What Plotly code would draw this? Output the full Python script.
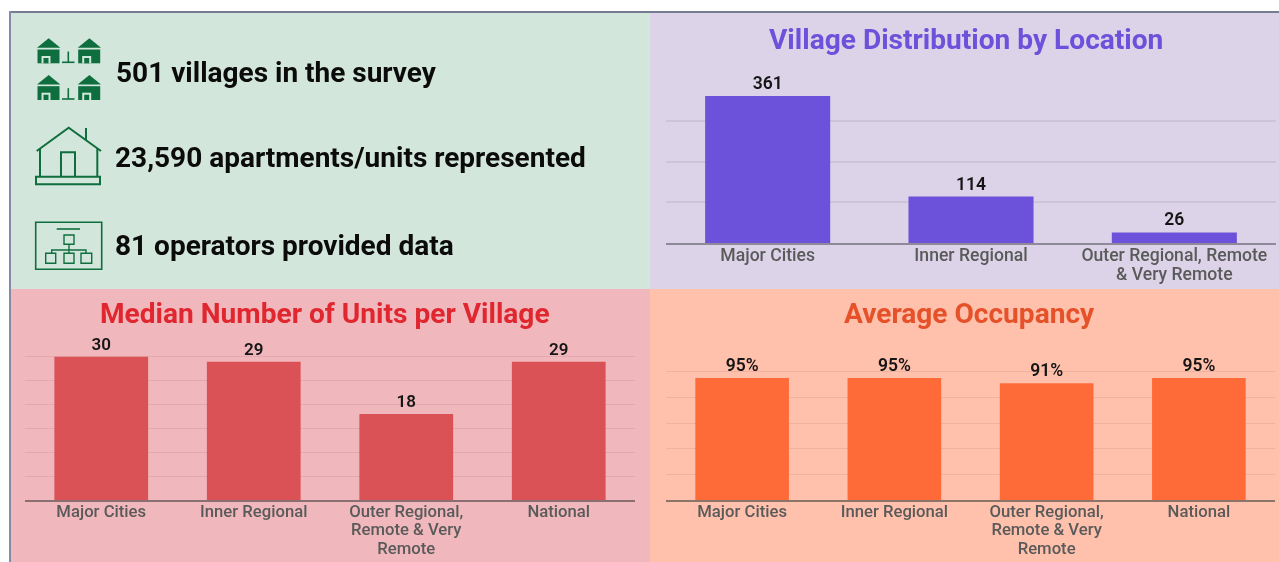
import plotly.graph_objects as go

W, H = 1279, 562

location_cats = ["Major Cities", "Inner Regional", "Outer Regional, Remote<br>& Very Remote"]
location_vals = [361, 114, 26]
median_cats = ["Major Cities", "Inner Regional", "Outer Regional,<br>Remote & Very<br>Remote", "National"]
median_vals = [30, 29, 18, 29]
occupancy_cats = ["Major Cities", "Inner Regional", "Outer Regional,<br>Remote & Very<br>Remote", "National"]
occupancy_vals = [95, 95, 91, 95]
occupancy_labels = ["95%", "95%", "91%", "95%"]
facts = ["501 villages in the survey", "23,590 apartments/units represented", "81 operators provided data"]
titles = ["Village Distribution by Location", "Median Number of Units per Village", "Average Occupancy"]

FONT = "Roboto"
GREEN = "#0F6E3E"


def px(x):
    return x / W


def py(y):
    return 1 - y / H


def path(cmds):
    out = []
    for c in cmds:
        if c == "Z":
            out.append("Z")
        else:
            out.append(f"{c[0]}{px(c[1]):.5f},{py(c[2]):.5f}")
    return " ".join(out)


def poly(pts, closed=True):
    cmds = [("M", *pts[0])] + [("L", *p) for p in pts[1:]]
    if closed:
        cmds.append("Z")
    return path(cmds)


def rect(x0, y0, x1, y1):
    return poly([(x0, y0), (x1, y0), (x1, y1), (x0, y1)])


shapes = []


def fill_rect(x0, y0, x1, y1, color):
    shapes.append(dict(type="rect", xref="paper", yref="paper", layer="below",
                       x0=px(x0), x1=px(x1), y0=py(y1), y1=py(y0),
                       fillcolor=color, line_width=0))


fill_rect(9, 11, W, 13, "#767C92")
fill_rect(9, 11, 11, H, "#868AA6")
fill_rect(11, 13, 650, 289, "#D2E6DB")
fill_rect(650, 13, W, 289, "#DCD3E8")
fill_rect(11, 289, 650, H, "#F0B8BC")
fill_rect(650, 289, W, H, "#FFC0AC")


def solid(d, color=GREEN):
    shapes.append(dict(type="path", xref="paper", yref="paper", path=d,
                       fillcolor=color, line_width=0))


def stroke(d, width=1.6, color=GREEN):
    shapes.append(dict(type="path", xref="paper", yref="paper", path=d,
                       line=dict(color=color, width=width)))


for dy in (0, 36.7):
    for dx in (0, 40.7):
        solid(poly([(48.7 + dx, 38.3 + dy), (37 + dx, 47.8 + dy), (60.3 + dx, 47.8 + dy)]))
        solid(rect(37.5 + dx, 49.5 + dy, 59.5 + dx, 63.3 + dy))
        solid(rect(41.5 + dx, 56 + dy, 50.5 + dx, 63.3 + dy), "#D2E6DB")
        solid(rect(43.5 + dx, 58 + dy, 48.5 + dx, 63.3 + dy))
    stroke(poly([(68.3, 51.5 + dy), (68.3, 62.3 + dy)], False), 1.6)
    stroke(poly([(62, 62.3 + dy), (74.5, 62.3 + dy)], False), 1.6)

stroke(poly([(36.7, 151), (68.7, 127.7), (101, 151)], False), 2)
stroke(poly([(86, 128), (86, 140)], False), 2)
stroke(poly([(40, 148), (40, 176.7)], False), 2)
stroke(poly([(97.3, 148), (97.3, 176.7)], False), 2)
stroke(poly([(61, 176.7), (61, 152.3), (75, 152.3), (75, 176.7)], False), 2)
stroke(rect(36, 176.7, 100, 184.3), 2)

stroke(rect(35.7, 222.3, 101.7, 269.3), 1.6)
stroke(poly([(56.7, 229), (80, 229)], False), 1.6)
stroke(rect(64, 235, 74, 244.3), 1.4)
stroke(poly([(69, 244.3), (69, 250)], False), 1.4)
stroke(poly([(51.7, 253.3), (51.7, 250), (86, 250), (86, 253.3)], False), 1.4)
stroke(poly([(69, 250), (69, 253.3)], False), 1.4)
for x0, x1 in ((45.7, 55.7), (64, 74), (81, 91.7)):
    stroke(rect(x0, 253.3, x1, 263.3), 1.4)

fig = go.Figure()

panels = [
    dict(cats=location_cats, vals=location_vals, text=[str(v) for v in location_vals], color="#6C52DB",
         x=(666, 1276), y=(80, 243), rng=400, dtick=100, grid="#CDC4D9", line="#8F8A9A", n="",
         tick=17.6, val=17.5, gw=1.5),
    dict(cats=median_cats, vals=median_vals, text=[str(v) for v in median_vals], color="#DB5256",
         x=(25, 635), y=(333, 500), rng=35, dtick=5, grid="#E2AAAE", line="#8A6E70", n="2",
         tick=16.7, val=17, gw=1),
    dict(cats=occupancy_cats, vals=occupancy_vals, text=occupancy_labels, color="#FF6B38",
         x=(666, 1275), y=(346, 500), rng=120, dtick=20, grid="#EFB29E", line="#8C7468", n="3",
         tick=16.7, val=17.5, gw=1),
]

layout_axes = {}
for p in panels:
    fig.add_trace(go.Bar(
        x=p["cats"], y=p["vals"], text=p["text"], textposition="outside", cliponaxis=False,
        textangle=0, marker=dict(color=p["color"], line_width=0),
        textfont=dict(family=FONT, size=p["val"], color="#151515", weight=600),
        xaxis="x" + p["n"], yaxis="y" + p["n"], showlegend=False, hoverinfo="skip",
    ))
    layout_axes["xaxis" + p["n"]] = dict(
        domain=[px(p["x"][0]), px(p["x"][1])], anchor="y" + p["n"], type="category",
        categoryorder="array", categoryarray=p["cats"], showgrid=False, zeroline=False,
        showline=True, linecolor=p["line"], linewidth=1.5, ticks="", ticklabelstandoff=-5,
        automargin=False,
        tickfont=dict(family=FONT, size=p["tick"], color="#5A5A5A", weight=500),
    )
    span = p["y"][1] - p["y"][0]
    layout_axes["yaxis" + p["n"]] = dict(
        domain=[py(p["y"][1]), py(p["y"][0] - 1)], anchor="x" + p["n"],
        range=[0, p["rng"] * (span + 1) / span], automargin=False,
        dtick=p["dtick"], showticklabels=False, gridcolor=p["grid"], gridwidth=p["gw"],
        zeroline=False, showline=False, ticks="",
    )

annotations = []
for txt, x, y in zip(facts, (113.5, 113, 113), (72, 157, 245)):
    annotations.append(dict(text=txt, xref="paper", yref="paper", x=px(x), y=py(y), showarrow=False,
                            xanchor="left", yanchor="middle",
                            font=dict(family=FONT, size=28, color="#0B0B0B", weight=700)))
for txt, x, y, c in zip(titles, (966, 325, 970), (40, 313, 313), ("#6C52DB", "#E0272F", "#E5522A")):
    annotations.append(dict(text=txt, xref="paper", yref="paper", x=px(x), y=py(y), showarrow=False,
                            xanchor="center", yanchor="middle",
                            font=dict(family=FONT, size=28.1, color=c, weight=700)))

fig.update_layout(
    width=W, height=H, margin=dict(l=0, r=0, t=0, b=0), autosize=False,
    paper_bgcolor="white", plot_bgcolor="rgba(0,0,0,0)",
    bargap=0.385, shapes=shapes, annotations=annotations, font=dict(family=FONT),
    **layout_axes,
)

fig.write_html(
    "out.html",
    config={"displayModeBar": False},
    post_script=(
        "document.body.style.margin='0';document.body.style.overflow='hidden';"
        "document.querySelector('.svg-container').style.filter='blur(0.5px)';"
        "function tightenTicks(){document.querySelectorAll('.xtick text,.x2tick text,.x3tick text').forEach(function(t){"
        "t.querySelectorAll('tspan.line').forEach(function(s,i){s.setAttribute('dy',(i*1.108)+'em');});});}"
        "tightenTicks();setTimeout(tightenTicks,50);"
    ),
)
